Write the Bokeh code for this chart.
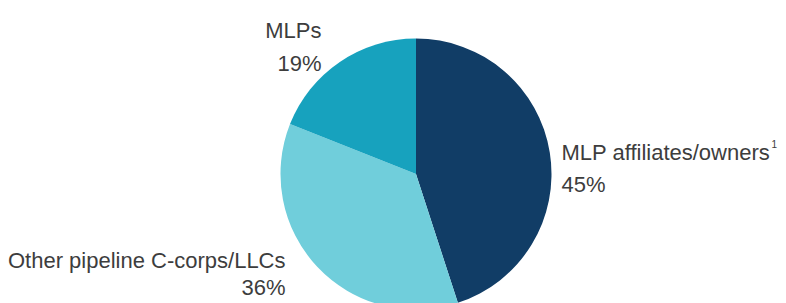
import numpy as np
from bokeh.plotting import figure
from bokeh.models import Range1d, ColumnDataSource
from bokeh.core.properties import value
from bokeh.embed import file_html
from bokeh.resources import INLINE

# ---- data ----
categories = ["MLP affiliates/owners", "Other pipeline C-corps/LLCs", "MLPs"]
shares = [45, 36, 19]
colors = ["#113d66", "#70cedb", "#17a2be"]

# ---- layout (1 data unit = 1 px) ----
W, H = 786, 303
cx, cy, R = 415.5, 129.5, 135.5

p = figure(width=W, height=H, output_backend="svg", toolbar_location=None,
           x_range=Range1d(0, W), y_range=Range1d(0, H), min_border=0)
p.axis.visible = False
p.grid.visible = False
p.outline_line_color = None
p.background_fill_color = "white"

vals = np.array(shares, dtype=float)
frac = vals / vals.sum()
cum = np.concatenate([[0], np.cumsum(frac)])
start = np.pi / 2 - 2 * np.pi * cum[1:]
end = np.pi / 2 - 2 * np.pi * cum[:-1]

src = ColumnDataSource(dict(start=start, end=end, color=colors, cat=categories))
p.wedge(x=cx, y=cy, radius=R, start_angle="start", end_angle="end",
        fill_color="color", line_color=None, source=src)

# label anchors: (x, name_y, pct_y, align)
label_pos = [(561, 151, 119, "left"), (285, 43, 16, "right"), (321, 273, 240, "right")]
font = value("Liberation Sans")
tcol = "#3d3d3d"
for cat, s, (lx, ny, py, al) in zip(categories, shares, label_pos):
    p.text(x=[lx], y=[ny], text=[cat], text_font=font, text_font_size="22px",
           text_color=tcol, text_align=al, text_baseline="alphabetic")
    p.text(x=[lx], y=[py], text=[f"{s}%"], text_font=font, text_font_size="22px",
           text_color=tcol, text_align=al, text_baseline="alphabetic")

# footnote marker
p.text(x=[771], y=[160], text=["1"], text_font=font, text_font_size="10px",
       text_color=tcol, text_align="left", text_baseline="alphabetic")

open("out.html", "w").write(file_html(p, INLINE))
